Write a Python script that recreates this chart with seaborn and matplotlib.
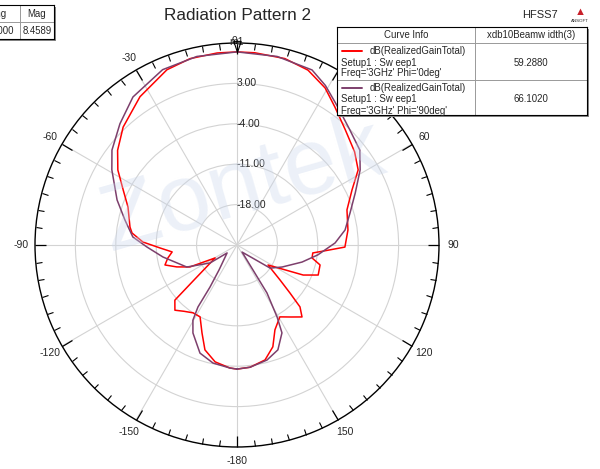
import numpy as np
import pandas as pd
import matplotlib
matplotlib.use("Agg")
import matplotlib.pyplot as plt
from matplotlib.patches import Rectangle
from matplotlib.path import Path
import seaborn as sns

sns.set_style("white")
plt.rcParams['font.family'] = ['Liberation Sans', 'DejaVu Sans']

# Phi = 0deg curve (theta in deg, gain in dB)
red_theta = [-180, -176.7, -169.4, -163, -158.3, -152.8, -147.1, -141.4, -136.4, -131.6,
             -129, -120.6, -115, -110, -105.5, -100.7, -96.1, -92.2, -88.2, -83.5,
             -80.5, -70.8, -64.2, -57.8, -51.6, -44, -33.2, -21.8, -14.1, -5.9,
             0, 5.3, 14.4, 22.1, 29.3, 35.4, 43.2, 51.6, 58.2, 64.4,
             72.3, 82.3, 91.1, 93.1, 96, 99.8, 103.5, 110.3, 114.4, 118.1,
             122.8, 129.1, 132.2, 134.5, 137.9, 143.1, 149.2, 155.9, 160.6, 166.3,
             173.9, 180]
red_db = [-3.5, -3.65, -4.4, -6.0, -8.6, -11.0, -11.0, -10.3, -9.4, -10.6,
          -15.6, -20.6, -16.0, -13.9, -12.05, -12.8, -13.7, -11.65, -8.7, -6.7,
          -6.2, -5.0, -3.1, -0.6, 1.4, 3.4, 5.7, 7.7, 8.3, 8.45,
          8.46, 8.45, 8.35, 7.7, 6.2, 4.3, 2.4, 1.0, -0.3, -2.9,
          -5.0, -5.6, -6.3, -9.0, -11.8, -11.8, -10.2, -10.0, -12.4, -16.2,
          -18.6, -15.4, -12.6, -9.7, -8.2, -9.4, -10.5, -8.9, -6.3, -4.5,
          -3.7, -3.5]

# Phi = 90deg curve
pur_theta = [-180, -176.7, -168.5, -161.1, -153.4, -149.6, -147.8, -147.3, -144.2, -128.7,
             -123.7, -113.7, -99.2, -91.3, -85.6, -77.4, -69.4, -59, -52.8, -44,
             -35.1, -23, -12, 0, 12, 23.2, 29, 36.2, 44, 52.3,
             58.6, 66.2, 74.2, 82.1, 88.8, 97, 104.7, 116, 124.9, 128.3,
             144.5, 147.4, 148, 150.9, 152.9, 158.7, 165.4, 173.9, 180]
pur_db = [-3.5, -3.65, -4.13, -5.2, -7.95, -9.9, -12.3, -16.35, -19.7, -22.8,
          -19.4, -15.5, -12.0, -9.4, -6.9, -5.1, -2.8, 0.3, 2.2, 4.2,
          6.35, 8.0, 8.4, 8.46, 8.4, 8.0, 6.6, 4.6, 3.0, 1.9,
          0.0, -2.6, -4.65, -6.1, -8.0, -10.9, -13.35, -16.3, -18.0, -20.8,
          -23.5, -19.85, -15.2, -10.7, -7.9, -5.5, -4.4, -3.7, -3.5]

curve_names = ["Phi='0deg'", "Phi='90deg'"]
curve_colors = ['#ff0000', '#7d3f6c']
beamwidths = ['59.2880', '66.1020']

r_ticks = [-18, -11, -4, 3]
r_min, r_max = -25, 10
theta_ticks = [0, 30, 60, 90, 120, 150, 180, 210, 240, 270, 300, 330]
theta_labels = ['', '30', '60', '90', '120', '150', '-180', '-150', '-120', '-90', '-60', '-30']

m1_theta, m1_mag = 0.0, 8.4589

df = pd.concat([
    pd.DataFrame({'theta': np.deg2rad(red_theta), 'db': red_db, 'curve': curve_names[0]}),
    pd.DataFrame({'theta': np.deg2rad(pur_theta), 'db': pur_db, 'curve': curve_names[1]}),
], ignore_index=True)

fig = plt.figure(figsize=(6, 4.69), dpi=100)
fig.patch.set_facecolor('white')

# watermark
fig.text(0.405, 0.60, 'Zontek', fontsize=68, color='#c9d6ec', alpha=0.35,
         rotation=16, ha='center', va='center', zorder=0)

cx, cy, R = 237, 245, 202
ax = fig.add_axes([(cx - R) / 600, (469 - cy - R) / 469, 2 * R / 600, 2 * R / 469],
                  projection='polar')
ax.set_facecolor('none')
ax.set_theta_zero_location('N')
ax.set_theta_direction(-1)
ax.set_ylim(r_min, r_max)

sns.lineplot(data=df, x='theta', y='db', hue='curve', palette=curve_colors,
             sort=False, estimator=None, legend=False, linewidth=1.1, ax=ax, zorder=3)
ax.set_xlabel('')
ax.set_ylabel('')

ax.set_xticks(np.deg2rad(theta_ticks))
ax.set_xticklabels(theta_labels, fontsize=7.5)
ax.set_xticks(np.deg2rad(np.arange(0, 360, 5)), minor=True)
ax.tick_params(axis='x', which='both', bottom=False, top=True, direction='in', color='black')
ax.tick_params(axis='x', which='major', length=8, width=0.9, pad=3)
ax.tick_params(axis='x', which='minor', length=4.5, width=0.8)
ax.set_yticks(r_ticks)
ax.set_yticklabels([])
ax.grid(True, color='#d3d3d3', linewidth=0.8)
ax.spines['polar'].set_color('black')
ax.spines['polar'].set_linewidth(1.0)

for rv in r_ticks:
    ax.text(0, rv, f'{rv:.2f}', fontsize=7.5, ha='left', va='center', zorder=4)

# marker m1 (the 0 deg label sits under it, as in HFSS)
tri = Path([(0, 0), (-0.33, 1), (0.33, 1), (0, 0)],
           [Path.MOVETO, Path.LINETO, Path.LINETO, Path.CLOSEPOLY])
ax.plot([np.deg2rad(m1_theta)], [m1_mag], marker=tri, ms=16, mfc='none', mec='black',
        mew=0.8, clip_on=False, zorder=5)
ax.annotate('m1', xy=(np.deg2rad(m1_theta), m1_mag), xytext=(0, 7), textcoords='offset points',
            ha='center', va='center', fontsize=7.5, annotation_clip=False)
ax.annotate('0', xy=(np.deg2rad(m1_theta), m1_mag), xytext=(-1.5, 7.5), textcoords='offset points',
            ha='center', va='center', fontsize=7.5, annotation_clip=False)

# title and logo
fig.text(cx / 600, 1 - 15 / 469, 'Radiation Pattern 2', ha='center', va='center', fontsize=12.3)
fig.text(540 / 600, 1 - 15 / 469, 'HFSS7', ha='center', va='center', fontsize=8)
fig.text(580 / 600, 1 - 12 / 469, '\u25b2', ha='center', va='center', fontsize=8, color='#c8202a')
fig.text(580 / 600, 1 - 21 / 469, 'ANSOFT', ha='center', va='center', fontsize=3.2)

# legend table (pixel coords inside its own axes)
lx, ly, lw, lh = 337, 27, 250, 88
fig.patches.append(Rectangle(((lx + 2) / 600, 1 - (ly + lh + 2) / 469), lw / 600, lh / 469,
                             transform=fig.transFigure, facecolor='#888888', edgecolor='none', zorder=4))
lax = fig.add_axes([lx / 600, 1 - (ly + lh) / 469, lw / 600, lh / 469])
lax.set_zorder(5)
lax.set_xlim(0, lw)
lax.set_ylim(lh, 0)
lax.set_facecolor('white')
for s in lax.spines.values():
    s.set_color('black')
    s.set_linewidth(0.8)
lax.set_xticks([])
lax.set_yticks([])
lax.axhline(16, color='#999999', lw=0.7)
lax.axhline(53, color='#999999', lw=0.7)
lax.axvline(138, color='#999999', lw=0.7)
fs = 6.9
lax.text(69, 8, 'Curve Info', ha='center', va='center', fontsize=fs)
lax.text(194, 8, 'xdb10Beamw idth(3)', ha='center', va='center', fontsize=fs)
for i, (name, col, bw) in enumerate(zip(curve_names, curve_colors, beamwidths)):
    y0 = 24 + i * 37
    lax.plot([5, 25], [y0, y0], color=col, lw=1.4)
    lax.text(33, y0, 'dB(RealizedGainTotal)', ha='left', va='center', fontsize=fs)
    lax.text(4, y0 + 11.5, 'Setup1 : Sw eep1', ha='left', va='center', fontsize=fs)
    lax.text(4, y0 + 22.5, "Freq='3GHz' " + name, ha='left', va='center', fontsize=fs)
    lax.text(194, y0 + 11.5, bw, ha='center', va='center', fontsize=fs)

# marker table at top left (partly off the figure)
tx, ty, tw, th = -130, 5, 184, 34
fig.patches.append(Rectangle(((tx + 2) / 600, 1 - (ty + th + 2) / 469), tw / 600, th / 469,
                             transform=fig.transFigure, facecolor='#888888', edgecolor='none', zorder=4))
tax = fig.add_axes([tx / 600, 1 - (ty + th) / 469, tw / 600, th / 469])
tax.set_zorder(5)
tax.set_xlim(0, tw)
tax.set_ylim(th, 0)
tax.set_xticks([])
tax.set_yticks([])
for s in tax.spines.values():
    s.set_color('black')
    s.set_linewidth(0.8)
tax.axhline(17, color='#999999', lw=0.7)
for xv in [50, 108, 150]:
    tax.axvline(xv, color='#999999', lw=0.7)
tbl_head = ['Name', 'Theta', 'Ang', 'Mag']
tbl_vals = ['m1', '0.0000', '0.0000', f'{m1_mag:.4f}']
col_mid = [25, 79, 129, 167]
for xm, h, v in zip(col_mid, tbl_head, tbl_vals):
    tax.text(xm, 9, h, ha='center', va='center', fontsize=fs)
    tax.text(xm, 26, v, ha='center', va='center', fontsize=fs)

fig.savefig('out.png', dpi=100)
